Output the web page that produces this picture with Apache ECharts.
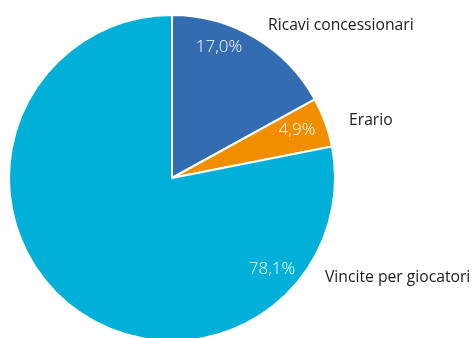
<!DOCTYPE html>
<html>
<head>
<meta charset="utf-8">
<script src="https://cdn.jsdelivr.net/npm/echarts@6/dist/echarts.min.js"></script>
<style>
  html, body { margin: 0; padding: 0; background: #fff; }
  #chart { width: 475px; height: 338px; }
</style>
</head>
<body>
<div id="chart"></div>
<script>
// Ripartizione della raccolta
const categories = ['Ricavi concessionari', 'Erario', 'Vincite per giocatori'];
const shares = [17.0, 4.9, 78.1];
const colors = ['#336cb0', '#f18e00', '#00b0d9'];

// label anchor points (px) for the percentage and name texts
const pctPos = [[219, 47], [297, 130], [272, 269]];
const namePos = [[268, 26], [349, 121], [325, 278]];

const fmt = v => v.toFixed(1).replace('.', ',') + '%';

const data = categories.map((name, i) => ({
  name: name,
  value: shares[i],
  itemStyle: { color: colors[i] }
}));

const chart = echarts.init(document.getElementById('chart'), null, { renderer: 'canvas' });

const common = {
  type: 'pie',
  center: [172, 178],
  radius: 163,
  startAngle: 90,
  clockwise: true,
  animation: false,
  avoidLabelOverlap: false,
  labelLine: { show: false }
};

chart.setOption({
  backgroundColor: '#ffffff',
  series: [
    Object.assign({}, common, {
      data: data,
      itemStyle: { borderColor: '#ffffff', borderWidth: 2 },
      label: {
        position: 'inside',
        formatter: p => fmt(p.value),
        color: '#ffffff',
        fontFamily: 'Open Sans',
        fontWeight: 300,
        fontSize: 17
      },
      labelLayout: p => ({
        x: pctPos[p.dataIndex][0],
        y: pctPos[p.dataIndex][1],
        align: 'center',
        verticalAlign: 'middle'
      })
    }),
    Object.assign({}, common, {
      silent: true,
      data: data.map(d => ({ name: d.name, value: d.value, itemStyle: { color: 'rgba(0,0,0,0)' } })),
      label: {
        position: 'outside',
        formatter: '{b}',
        color: '#1a1a1a',
        fontFamily: 'Open Sans',
        fontSize: 15.7
      },
      labelLayout: p => ({
        x: namePos[p.dataIndex][0],
        y: namePos[p.dataIndex][1],
        align: 'left',
        verticalAlign: 'middle'
      })
    })
  ]
});
</script>
</body>
</html>
